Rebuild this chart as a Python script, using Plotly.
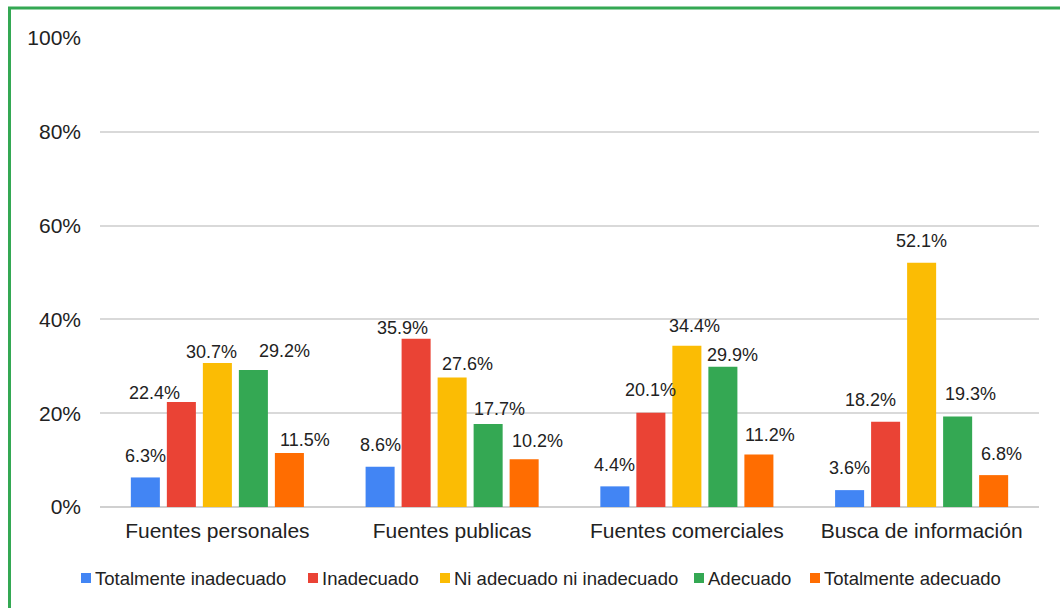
import plotly.graph_objects as go

# Categories and response levels
categories = ["Fuentes personales", "Fuentes publicas", "Fuentes comerciales", "Busca de información"]
series_names = [
    "Totalmente inadecuado",
    "Inadecuado",
    "Ni adecuado ni inadecuado",
    "Adecuado",
    "Totalmente adecuado",
]

# Percentages per response level, one value per category
totalmente_inadecuado = [6.3, 8.6, 4.4, 3.6]
inadecuado = [22.4, 35.9, 20.1, 18.2]
ni_adecuado_ni_inadecuado = [30.7, 27.6, 34.4, 52.1]
adecuado = [29.2, 17.7, 29.9, 19.3]
totalmente_adecuado = [11.5, 10.2, 11.2, 6.8]

y_ticks = [0, 20, 40, 60, 80, 100]
y_tick_labels = ["0%", "20%", "40%", "60%", "80%", "100%"]

series_values = [
    totalmente_inadecuado,
    inadecuado,
    ni_adecuado_ni_inadecuado,
    adecuado,
    totalmente_adecuado,
]
colors = ["#4285f4", "#ea4335", "#fbbc04", "#34a853", "#ff6d01"]

# Value-label nudges (pixels) so neighbouring labels do not collide:
# rows = categories, columns = series
label_dx = [
    [0, -27, -6, 31, 16],
    [0, -14, 15, 11, 13],
    [0, 0, 8, 10, 11],
    [0, -15, 0, 13, 8],
]
label_dy = [
    [21.5, 8.5, 11.5, 19, 13.5],
    [22, 10.5, 14, 15, 18],
    [21, 22.5, 19.5, 12, 19],
    [22, 21.5, 22, 22, 21],
]

FONT = "Arial, Liberation Sans, sans-serif"
TEXT = "#222222"
BARGAP = 0.233
BARGROUPGAP = 0.194

fig = go.Figure()
for name, vals, col in zip(series_names, series_values, colors):
    fig.add_trace(
        go.Bar(
            name=name,
            x=categories,
            y=vals,
            marker=dict(color=col, line=dict(width=0)),
            hoverinfo="skip",
            showlegend=False,
        )
    )

W, H = 1060, 608
L, R, T, B = 100, 21, 38, 101
pw = W - L - R
ph = H - T - B


def px_x(x):
    return (x - L) / pw


def px_y(y):
    return (H - B - y) / ph


shapes = []
annotations = []

# Value labels above each bar (category axis position + slot offset within group)
n_series = len(series_names)
slot = (1 - BARGAP) / n_series
for i, vals in enumerate(series_values):
    for k, v in enumerate(vals):
        annotations.append(
            dict(
                xref="x",
                yref="y",
                x=k + (i - (n_series - 1) / 2) * slot,
                y=v,
                xshift=label_dx[k][i],
                yshift=label_dy[k][i],
                xanchor="center",
                yanchor="middle",
                text=f"{v:.1f}%",
                showarrow=False,
                font=dict(family=FONT, size=18, color=TEXT),
            )
        )

# Legend row drawn below the plot: swatch left edges in pixels
legend_left = [81, 308, 440, 694, 810]
legend_mid_y = 578
swatch = 10

for name, col, x0 in zip(series_names, colors, legend_left):
    shapes.append(
        dict(
            type="rect",
            xref="paper",
            yref="paper",
            x0=px_x(x0),
            x1=px_x(x0 + swatch),
            y0=px_y(legend_mid_y + swatch / 2),
            y1=px_y(legend_mid_y - swatch / 2),
            line=dict(width=0),
            fillcolor=col,
        )
    )
    annotations.append(
        dict(
            xref="paper",
            yref="paper",
            x=px_x(x0 + swatch + 2),
            y=px_y(legend_mid_y),
            xanchor="left",
            yanchor="middle",
            text=name,
            showarrow=False,
            font=dict(family=FONT, size=18.5, color=TEXT),
        )
    )

# Green frame around the chart
shapes.append(
    dict(
        type="rect",
        xref="paper",
        yref="paper",
        x0=px_x(9.5),
        x1=px_x(W + 10),
        y0=px_y(H + 10),
        y1=px_y(8),
        line=dict(color="#34a853", width=3),
        fillcolor="rgba(0,0,0,0)",
        layer="above",
    )
)

fig.update_layout(
    width=W,
    height=H,
    autosize=False,
    margin=dict(l=L, r=R, t=T, b=B, autoexpand=False),
    paper_bgcolor="white",
    plot_bgcolor="white",
    barmode="group",
    bargap=BARGAP,
    bargroupgap=BARGROUPGAP,
    font=dict(family=FONT, color=TEXT),
    showlegend=False,
    xaxis=dict(
        showgrid=False,
        showline=False,
        zeroline=False,
        tickangle=0,
        tickfont=dict(family=FONT, size=21, color=TEXT),
        ticklabelstandoff=9,
        fixedrange=True,
    ),
    yaxis=dict(
        range=[0, 100],
        tickvals=y_ticks,
        ticktext=y_tick_labels,
        showgrid=True,
        gridcolor="#d9d9d9",
        gridwidth=1.5,
        zeroline=True,
        zerolinecolor="#d0d0d0",
        zerolinewidth=1.5,
        showline=False,
        tickfont=dict(family=FONT, size=21, color=TEXT),
        ticklabelstandoff=18,
        fixedrange=True,
    ),
    shapes=shapes,
    annotations=annotations,
)

fig.write_html("out.html")
